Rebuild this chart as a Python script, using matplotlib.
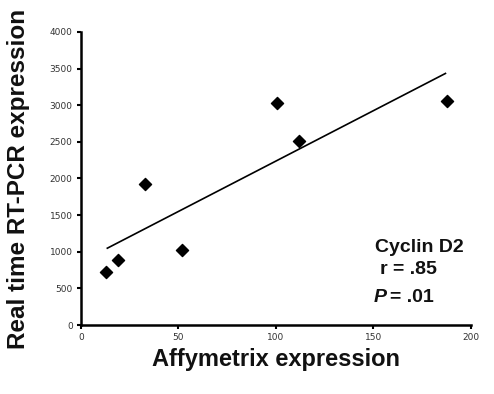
import numpy as np
import matplotlib
matplotlib.use("Agg")
import matplotlib.pyplot as plt

affy = [12.8, 19, 33, 52, 100.5, 112, 188]
rtpcr = [723, 887, 1924, 1023, 3029, 2510, 3056]
xticks = [0, 50, 100, 150, 200]
yticks = [0, 500, 1000, 1500, 2000, 2500, 3000, 3500, 4000]

fig = plt.figure(figsize=(4.94, 3.94), dpi=100)
ax = fig.add_axes([0.164, 0.175, 0.789, 0.744])

ax.scatter(affy, rtpcr, marker='D', s=38, color='black', zorder=3)
slope, intercept = np.polyfit(affy, rtpcr, 1)
xl = np.array([min(affy) + 0.7, max(affy) - 1])
ax.plot(xl, slope * xl + intercept, color='black', lw=1.2)

ax.set_xlim(0, 200)
ax.set_ylim(0, 4000)
ax.set_xticks(xticks)
ax.set_yticks(yticks)
for s in ['top', 'right']:
    ax.spines[s].set_visible(False)
for s in ['left', 'bottom']:
    ax.spines[s].set_linewidth(1.8)
ax.tick_params(direction='out', length=3, width=1.5, labelsize=6.5, labelcolor='#333333', pad=3)
for lab in ax.get_xticklabels() + ax.get_yticklabels():
    lab.set_fontfamily('DejaVu Sans')

ax.set_xlabel('Affymetrix expression', fontsize=17, fontweight='bold', family='Liberation Sans', labelpad=4, color='#111111')
ax.set_ylabel('Real time RT-PCR expression', fontsize=17.5, fontweight='bold', family='Liberation Sans', labelpad=14, color='#111111')

tkw = dict(fontsize=14, fontweight='bold', family='Liberation Sans', va='center', ha='left', color='#111111')
fig.text(375/494, 1 - 248/394, 'Cyclin D2', **tkw)
fig.text(380/494, 1 - 270/394, 'r = .85', **tkw)
fig.text(374/494, 1 - 297/394, 'P', style='italic', **tkw)
fig.text(390/494, 1 - 297/394, '= .01', **tkw)

fig.savefig('out.png', dpi=100)
